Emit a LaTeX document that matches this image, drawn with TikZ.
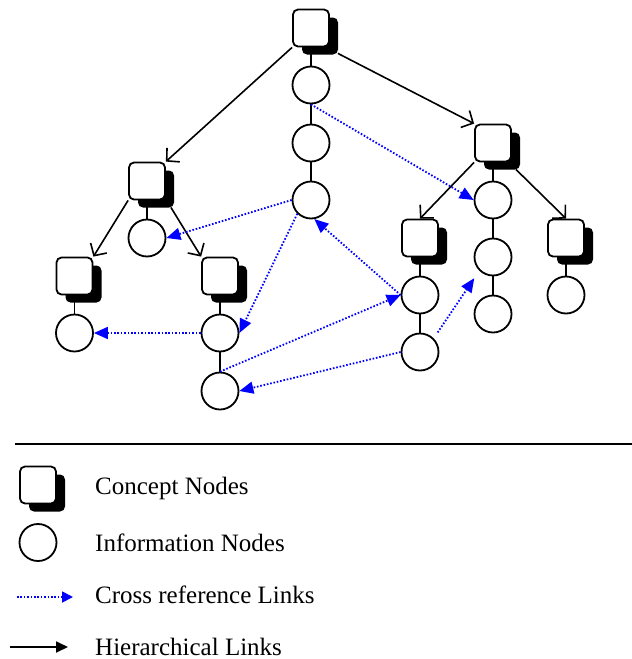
\documentclass[tikz,border=0pt]{standalone}
\usepackage{fontspec}
\setmainfont{Liberation Serif}
\usepackage{tikz}
\usetikzlibrary{arrows.meta}
\usetikzlibrary{shadows}

\begin{document}
\begin{tikzpicture}[x=1pt,y=-1pt,
  concept/.style={draw=black,fill=white,line width=1.8pt,rounded corners=5pt,
    minimum width=36pt,minimum height=37pt,inner sep=0pt,
    drop shadow={shadow xshift=9pt,shadow yshift=-8pt,fill=black,opacity=1}},
  info/.style={draw=black,fill=white,circle,line width=1.8pt,minimum size=37pt,inner sep=0pt},
  hier/.style={-{Straight Barb[length=9pt,width=19pt,line width=1.6pt]},line width=1.6pt},
  xref/.style={-{Triangle[length=14pt,width=12pt]},blue,line width=1.8pt,dash pattern=on 1.6pt off 1.8pt},
  key/.style={anchor=base west,inner sep=0pt,font=\fontsize{25}{30}\selectfont}]
\useasboundingbox (0,0) rectangle (632,659);

\node (root)[concept] at (311,28) {};
\node (a1)[info] at (311,85) {};
\node (a2)[info] at (311,143) {};
\node (a3)[info] at (311,200) {};
\node (L)[concept] at (147,181) {};
\node (l1)[info] at (147,238) {};
\node (LL)[concept] at (74.5,276) {};
\node (ll1)[info] at (74.5,333) {};
\node (LR)[concept] at (220,276) {};
\node (lr1)[info] at (220,333) {};
\node (lr2)[info] at (220,391) {};
\node (R)[concept] at (493,143) {};
\node (r1)[info] at (493,200) {};
\node (r2)[info] at (493,257) {};
\node (r3)[info] at (493,314) {};
\node (RL)[concept] at (420,238) {};
\node (rl1)[info] at (420,295) {};
\node (rl2)[info] at (420,352) {};
\node (RR)[concept] at (566,238) {};
\node (rr1)[info] at (566,295) {};

\draw[line width=1.8pt] (root) to (a1);
\draw[line width=1.8pt] (a1) to (a2);
\draw[line width=1.8pt] (a2) to (a3);
\draw[line width=1.8pt] (L) to (l1);
\draw[line width=1.8pt] (LL) to (ll1);
\draw[line width=1.8pt] (LR) to (lr1);
\draw[line width=1.8pt] (lr1) to (lr2);
\draw[line width=1.8pt] (R) to (r1);
\draw[line width=1.8pt] (r1) to (r2);
\draw[line width=1.8pt] (r2) to (r3);
\draw[line width=1.8pt] (RL) to (rl1);
\draw[line width=1.8pt] (rl1) to (rl2);
\draw[line width=1.8pt] (RR) to (rr1);

\draw[hier] (root.south west) to (L.north east);
\draw[hier] ([xshift=8pt,yshift=-6pt]root.south east) to (R.north west);
\draw[hier] (L.south west) to (LL.north east);
\draw[hier] ([xshift=5pt,yshift=-7pt]L.south east) to (LR.north west);
\draw[hier] (R.south west) to (RL.north);
\draw[hier] ([xshift=4pt,yshift=-7pt]R.south east) to (RR.north);

\draw[xref] (a1.south) to (r1.west);
\draw[xref] (a3.west) to (l1.east);
\draw[xref] (a3.south west) to (lr1.east);
\draw[xref] (rl1.west) to (a3.-80);
\draw[xref] (lr1.west) to (ll1.east);
\draw[xref] (lr2.north) to (rl1.west);
\draw[xref] (rl2.west) to (lr2.east);
\draw[xref,shorten <=7pt,shorten >=9pt] (rl2.north east) to (r2.south west);

% legend
\coordinate (rule1) at (15,444);
\coordinate (rule2) at (632,444);
\draw[line width=2pt] (rule1) to (rule2);
\node (keyC)[concept] at (38,485) {};
\node (keyI)[info] at (38,542.5) {};
\coordinate (xa) at (17,597);
\coordinate (xb) at (73,597);
\draw[blue,line width=1.8pt,dash pattern=on 1.6pt off 1.8pt,-{Triangle[length=11pt,width=11pt]}] (xa) to (xb);
\coordinate (ha) at (10,647);
\coordinate (hb) at (68,647);
\draw[line width=1.8pt,-{Triangle[length=12pt,width=11pt]}] (ha) to (hb);
\node (tC)[key] at (95,494) {Concept Nodes};
\node (tI)[key] at (95,551) {Information Nodes};
\node (tX)[key] at (95,603) {Cross reference Links};
\node (tH)[key] at (95,655) {Hierarchical Links};
\end{tikzpicture}
\end{document}
